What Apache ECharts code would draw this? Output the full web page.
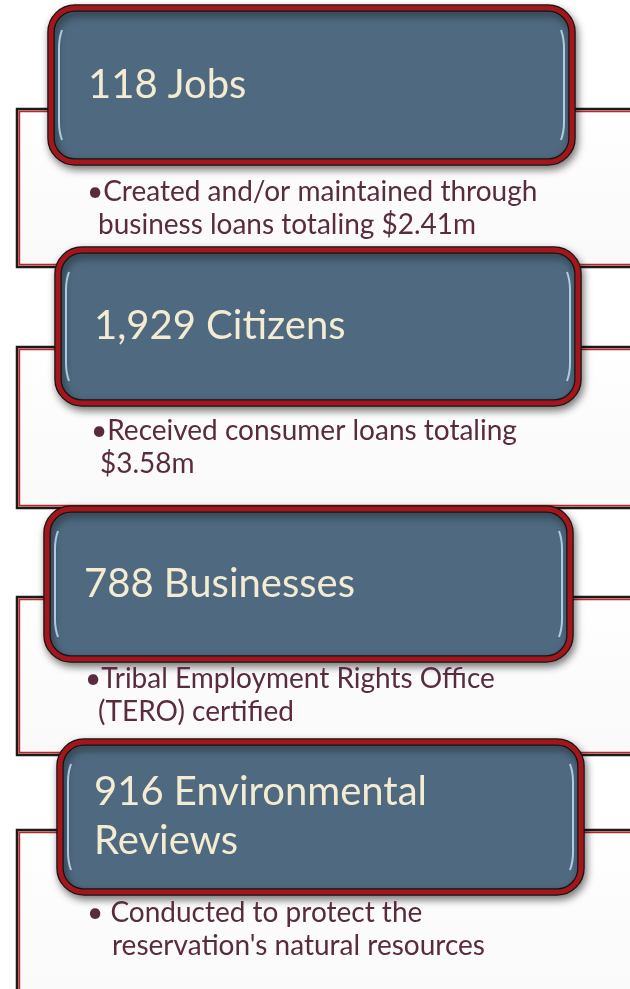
<!DOCTYPE html>
<html><head><meta charset="utf-8">
<script src="https://cdn.jsdelivr.net/npm/echarts@6/dist/echarts.min.js"></script>
<style>html,body{margin:0;padding:0;background:#fff}#main{width:630px;height:989px}</style>
</head><body><div id="main"></div>
<script>
// ---- data ----
const counts = [118, 1929, 788, 916];
const labels = ['Jobs', 'Citizens', 'Businesses', 'Environmental\nReviews'];
const descLine1 = ['\u2022Created and/or maintained through', '\u2022Received consumer loans totaling', '\u2022Tribal Employment Rights Office', '\u2022 Conducted to protect the'];
const descLine2 = ['business loans totaling $2.41m', '$3.58m', '(TERO) certified', "reservation's natural resources"];

// ---- layout (page units, mapped through hidden value axes) ----
const boxLeft = [51, 58, 47, 60], boxRight = [572, 578, 570, 581];
const boxTop = [8, 250, 509, 742], boxBottom = [162, 403, 659, 892];
const panelTop = [109, 347, 597, 830], panelBottom = [267, 508, 755, 1004];
const titleX = [88, 94, 84, 94];
const desc1X = [87, 91, 85, 87], desc2X = [98, 100, 98, 112], desc1Y = [201, 440, 688, 922];
const descGap = 33;

const TFONT = 'Lato, "Open Sans", sans-serif';
const DFONT = 'Lato, "Open Sans", sans-serif';
const chart = echarts.init(document.getElementById('main'), null, {renderer: 'canvas'});

function renderItem(params, api) {
  const i = params.dataIndex;
  const P = (x, y) => api.coord([x, y]);
  const pl = P(17, panelTop[i]), pr = P(660, panelBottom[i]);
  const bl = P(boxLeft[i], boxTop[i]), br = P(boxRight[i], boxBottom[i]);
  const bw = br[0] - bl[0], bh = br[1] - bl[1];
  const title = counts[i].toLocaleString('en-US') + ' ' + labels[i];
  const tc = P(titleX[i], (boxTop[i] + boxBottom[i]) / 2);
  const d1 = P(desc1X[i], desc1Y[i] - 9);
  const d2 = P(desc2X[i], desc1Y[i] + descGap - 9);
  const hl = 'rgba(185,215,238,0.9)';
  return {
    type: 'group',
    children: [
      // panel
      {type: 'rect', shape: {x: pl[0], y: pl[1], width: pr[0] - pl[0], height: pr[1] - pl[1]},
        style: {fill: new echarts.graphic.LinearGradient(0, 0, 0, 1, [{offset: 0, color: '#ffffff'}, {offset: 1, color: '#f9f9f9'}]),
          stroke: '#1b1b1b', lineWidth: 2.5}},
      {type: 'rect', shape: {x: pl[0] + 2.3, y: pl[1] + 2.3, width: pr[0] - pl[0], height: pr[1] - pl[1] - 4.6},
        style: {fill: 'none', stroke: '#b42a2a', lineWidth: 1.8}},
      // box
      {type: 'rect', shape: {x: bl[0], y: bl[1], width: bw, height: bh, r: 24},
        style: {fill: '#4f6a80', stroke: '#141414', lineWidth: 7.5,
          shadowBlur: 8, shadowOffsetX: 2, shadowOffsetY: 4, shadowColor: 'rgba(0,0,0,0.45)'}},
      {type: 'rect', shape: {x: bl[0], y: bl[1], width: bw, height: bh, r: 24},
        style: {fill: 'none', stroke: '#a3161b', lineWidth: 5}},
      // highlights
      {type: 'path', shape: {pathData: 'M' + (bl[0] + 11) + ' ' + (bl[1] + 22) + ' Q' + (bl[0] + 8) + ' ' + (bl[1] + 30) + ' ' + (bl[0] + 8) + ' ' + (bl[1] + 40) + ' L' + (bl[0] + 8) + ' ' + (br[1] - 40) + ' Q' + (bl[0] + 8) + ' ' + (br[1] - 30) + ' ' + (bl[0] + 11) + ' ' + (br[1] - 22)},
        style: {fill: 'none', stroke: hl, lineWidth: 2}},
      {type: 'path', shape: {pathData: 'M' + (br[0] - 11) + ' ' + (bl[1] + 22) + ' Q' + (br[0] - 8) + ' ' + (bl[1] + 30) + ' ' + (br[0] - 8) + ' ' + (bl[1] + 40) + ' L' + (br[0] - 8) + ' ' + (br[1] - 40) + ' Q' + (br[0] - 8) + ' ' + (br[1] - 30) + ' ' + (br[0] - 11) + ' ' + (br[1] - 22)},
        style: {fill: 'none', stroke: hl, lineWidth: 2}},
      // texts
      {type: 'text', style: {x: tc[0], y: tc[1], text: title, fill: '#f4ecd2', font: '40px ' + TFONT,
        verticalAlign: 'middle', align: 'left', lineHeight: 49}},
      {type: 'text', style: {x: d1[0], y: d1[1], text: descLine1[i], fill: '#5a2b3f', font: '28px ' + DFONT,
        verticalAlign: 'middle', align: 'left'}},
      {type: 'text', style: {x: d2[0], y: d2[1], text: descLine2[i], fill: '#5a2b3f', font: '28px ' + DFONT,
        verticalAlign: 'middle', align: 'left'}}
    ]
  };
}

chart.setOption({
  animation: false,
  backgroundColor: '#ffffff',
  grid: {left: 0, right: 0, top: 0, bottom: 0},
  xAxis: {type: 'value', min: 0, max: 630, show: false},
  yAxis: {type: 'value', min: 0, max: 989, inverse: true, show: false},
  series: [{
    type: 'custom',
    renderItem: renderItem,
    clip: false,
    data: counts.map((c, i) => [i, c])
  }]
});
</script>
</body></html>
